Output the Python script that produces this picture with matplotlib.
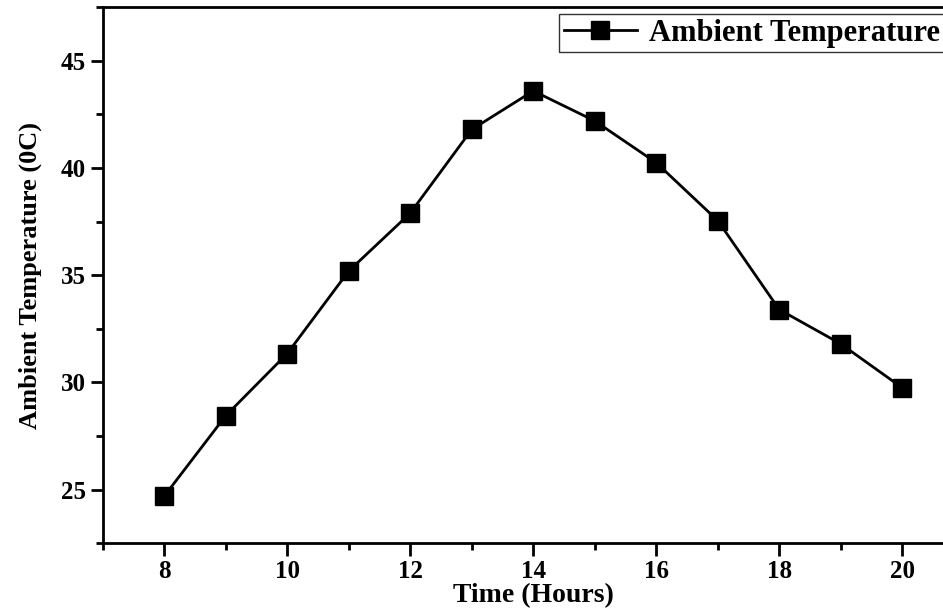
import matplotlib.pyplot as plt
from matplotlib.ticker import MultipleLocator

hours = [8, 9, 10, 11, 12, 13, 14, 15, 16, 17, 18, 19, 20]
ambient_temp = [24.7, 28.45, 31.35, 35.2, 37.9, 41.8, 43.6, 42.2, 40.25, 37.55, 33.4, 31.8, 29.75]

plt.rcParams['font.family'] = ['Liberation Serif', 'DejaVu Serif']

fig = plt.figure(figsize=(9.43, 6.09), dpi=100)
ax = fig.add_axes([0.109, 0.108, 0.913, 0.880])

ax.plot(hours, ambient_temp, '-', color='black', lw=2, marker='s',
        markersize=13, markerfacecolor='black', markeredgecolor='black',
        label='Ambient Temperature')

ax.set_xlim(7, 21)
ax.set_ylim(22.5, 47.5)
ax.xaxis.set_major_locator(MultipleLocator(2))
ax.xaxis.set_minor_locator(MultipleLocator(1))
ax.yaxis.set_major_locator(MultipleLocator(5))
ax.yaxis.set_minor_locator(MultipleLocator(2.5))
ax.tick_params(which='major', direction='out', length=9, width=2, labelsize=18, pad=3)
ax.tick_params(which='minor', direction='out', length=5, width=2)
for lbl in ax.get_xticklabels() + ax.get_yticklabels():
    lbl.set_fontweight('bold')
for s in ax.spines.values():
    s.set_linewidth(2)

ax.set_xlabel('Time (Hours)', fontsize=20, fontweight='bold', labelpad=0)
ax.set_ylabel('Ambient Temperature (0C)', fontsize=19, fontweight='bold', labelpad=14)

leg = ax.legend(loc='upper right', bbox_to_anchor=(0.978, 0.987),
                prop={'weight': 'bold', 'size': 22}, fancybox=False,
                edgecolor='black', handlelength=2.4, borderpad=0.15,
                handletextpad=0.4, borderaxespad=0)
leg.get_frame().set_linewidth(1)

fig.savefig('out.png', dpi=100)
